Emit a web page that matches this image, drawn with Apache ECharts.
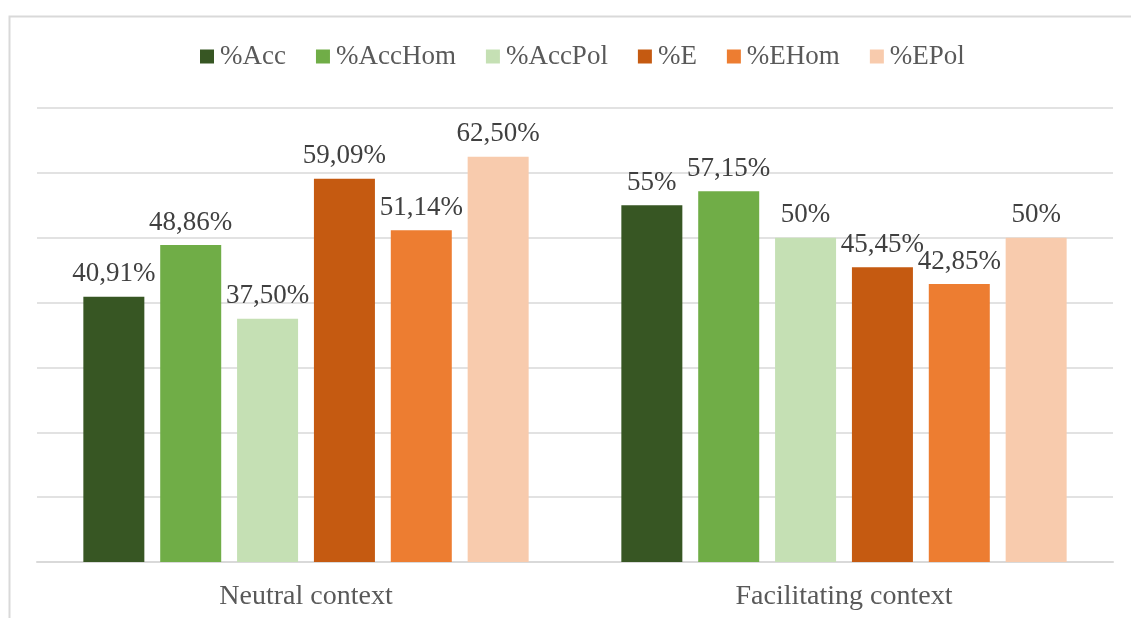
<!DOCTYPE html>
<html>
<head>
<meta charset="utf-8">
<script src="https://cdn.jsdelivr.net/npm/echarts@6/dist/echarts.min.js"></script>
<style>html,body{margin:0;padding:0;background:#fff}#c{width:1131px;height:618px}</style>
</head>
<body>
<div id="c"></div>
<script>
const categories = ['Neutral context', 'Facilitating context'];
const seriesNames = ['%Acc', '%AccHom', '%AccPol', '%E', '%EHom', '%EPol'];
const accValues = [40.91, 55];
const accHomValues = [48.86, 57.15];
const accPolValues = [37.5, 50];
const eValues = [59.09, 45.45];
const eHomValues = [51.14, 42.85];
const ePolValues = [62.5, 50];
const accLabels = ['40,91%', '55%'];
const accHomLabels = ['48,86%', '57,15%'];
const accPolLabels = ['37,50%', '50%'];
const eLabels = ['59,09%', '45,45%'];
const eHomLabels = ['51,14%', '42,85%'];
const ePolLabels = ['62,50%', '50%'];
const colors = ['#375623', '#70AD47', '#C5E0B4', '#C55A11', '#ED7D31', '#F8CBAD'];

const allValues = [accValues, accHomValues, accPolValues, eValues, eHomValues, ePolValues];
const allLabels = [accLabels, accHomLabels, accPolLabels, eLabels, eHomLabels, ePolLabels];
const font = '"Liberation Serif", "Times New Roman", serif';

const chart = echarts.init(document.getElementById('c'));
chart.setOption({
  animation: false,
  color: colors,
  graphic: [{
    type: 'rect', left: 7, top: 14, z: -1,
    shape: { x: 0, y: 0, width: 1300, height: 800 },
    style: { fill: 'none', stroke: '#d9d9d9', lineWidth: 2 }
  }],
  legend: {
    left: 195, top: 38,
    itemWidth: 14, itemHeight: 14, itemGap: 30,
    icon: 'rect',
    textStyle: { fontFamily: font, fontSize: 27, color: '#595959', padding: [0, 0, 0, 1] },
    data: seriesNames
  },
  grid: { left: 37, right: 18, top: 108, bottom: 56, containLabel: false },
  xAxis: {
    type: 'category', data: categories,
    axisLine: { lineStyle: { color: '#d9d9d9', width: 2 } },
    axisTick: { show: false },
    axisLabel: { fontFamily: font, fontSize: 28, color: '#595959', margin: 21 }
  },
  yAxis: {
    type: 'value', min: 0, max: 70, interval: 10,
    axisLabel: { show: false }, axisLine: { show: false }, axisTick: { show: false },
    splitLine: { lineStyle: { color: '#d9d9d9', width: 1.5 } }
  },
  series: seriesNames.map((name, i) => ({
    name, type: 'bar',
    data: allValues[i],
    barWidth: 61, barGap: '26%',
    label: {
      show: true, position: 'top', distance: 9,
      fontFamily: font, fontSize: 27, color: '#404040',
      formatter: p => allLabels[i][p.dataIndex]
    }
  }))
});
</script>
</body>
</html>
